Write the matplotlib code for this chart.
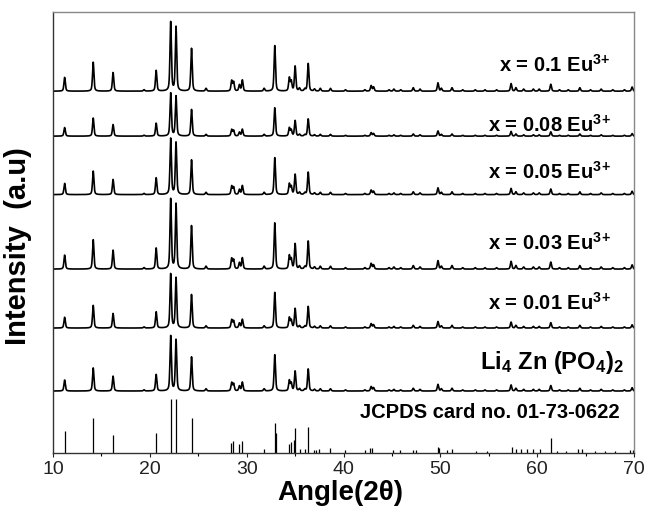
import numpy as np
import matplotlib
matplotlib.use("Agg")
import matplotlib.pyplot as plt

plt.rcParams['font.family'] = ['Liberation Sans', 'DejaVu Sans']
plt.rcParams['mathtext.default'] = 'regular'

# measured pattern: peak position (2theta) and relative intensity (%)
peak_pos = [11.2, 14.15, 16.2, 19.4, 20.65, 22.15, 22.7, 24.3, 25.8, 28.45,
            28.65, 29.25, 29.55, 31.8, 32.9, 34.4, 34.6, 35.0, 35.45, 36.0,
            36.35, 37.0, 37.6, 38.65, 40.2, 42.2, 42.85, 43.1, 44.7, 45.2,
            45.9, 47.2, 47.9, 49.75, 50.1, 51.2, 52.3, 53.6, 54.6, 55.8,
            57.3, 57.8, 58.6, 59.6, 60.2, 61.4, 62.3, 63.2, 64.4, 65.5,
            66.6, 67.8, 69.0, 69.8]
peak_int = [20, 42, 27, 2, 30, 100, 93, 62, 4, 15,
            13, 9, 16, 4, 66, 19, 14, 36, 4, 3,
            40, 3, 4, 4, 2, 2, 8, 6, 2, 3,
            2, 5, 3, 12, 4, 5, 2, 2, 2, 2,
            11, 5, 3, 3, 3, 10, 2, 2, 5, 2,
            3, 2, 2, 6]

# JCPDS card 01-73-0622 reference lines
card_pos = [11.2, 14.15, 16.2, 20.65, 22.15, 22.7, 24.3, 28.4, 28.6, 29.25,
            29.55, 31.8, 32.9, 33.0, 34.4, 34.6, 34.9, 35.0, 35.5, 36.0,
            36.35, 36.9, 37.2, 37.5, 38.6, 40.1, 42.2, 42.75, 42.95, 45.1,
            45.8, 47.2, 47.5, 49.8, 49.9, 50.7, 51.2, 53.7, 54.8, 57.4,
            57.8, 58.3, 58.9, 59.6, 60.3, 61.4, 62.0, 63.0, 64.2, 64.6,
            66.0, 67.0, 68.0, 69.6, 69.9]
card_int = [39, 63, 33, 37, 100, 100, 63, 18, 22, 15,
            22, 7, 55, 37, 15, 20, 24, 46, 7, 7,
            48, 5, 5, 6, 8, 4, 5, 9, 9, 5,
            4, 5, 5, 10, 8, 4, 7, 3, 3, 11,
            7, 7, 6, 6, 6, 26, 3, 3, 7, 6,
            3, 3, 3, 5, 5]

labels = ["Li$_4$ Zn (PO$_4$)$_2$", r"x = 0.01 Eu$^{3\!+}$", r"x = 0.03 Eu$^{3\!+}$",
          r"x = 0.05 Eu$^{3\!+}$", r"x = 0.08 Eu$^{3\!+}$", r"x = 0.1 Eu$^{3\!+}$"]
scale = [55, 54, 70, 56, 43, 69]

# stacking (layout only)
offsets = [61.5, 124.5, 183.5, 258, 316.5, 361.5]
label_y = [90, 149.5, 209.5, 280.5, 327.5, 387.5]
card_scale = 54

tt = np.arange(10, 70.005, 0.01)


def profile(x, pos, amp, w=0.17):
    y = np.zeros_like(x)
    for p, a in zip(pos, amp):
        d = (x - p) / (w / 2)
        y += a / 100 * (0.5 / (1 + d**2) + 0.5 * np.exp(-np.log(2) * d**2))
    return y


base = profile(tt, peak_pos, peak_int)

fig = plt.figure(figsize=(6.49, 5.09), dpi=100)
ax = fig.add_axes([0.0817, 0.111, 0.8953, 0.865])

for lab, s, off, ly in zip(labels, scale, offsets, label_y):
    ax.plot(tt, off + s * base, color='black', lw=1.2)
    if lab.startswith("Li"):
        ax.text(68.9, ly, lab, fontsize=17, fontweight='bold', ha='right', va='center')
    else:
        ax.text(67.6, ly, lab, fontsize=14.5, fontweight='bold', ha='right', va='center')

ax.vlines(card_pos, 0, np.array(card_int) / 100 * card_scale, color='black', lw=0.9)
ax.text(68.55, 40, "JCPDS card no. 01-73-0622", fontsize=14.5, fontweight='bold',
        ha='right', va='center')

ax.set_xlim(10, 70)
ax.set_ylim(0, 440.5)
ax.set_yticks([])
ax.set_xticks(np.arange(10, 71, 10))
ax.set_xticks(np.arange(15, 70, 10), minor=True)
ax.tick_params(axis='x', which='major', direction='out', length=3, width=0.8,
               labelsize=14, colors='#222222', pad=3)
ax.tick_params(axis='x', which='minor', direction='out', length=2, width=0.8)

for side in ['left', 'bottom']:
    ax.spines[side].set_color('#333333')
    ax.spines[side].set_linewidth(1.0)
for side in ['top', 'right']:
    ax.spines[side].set_color('#888888')
    ax.spines[side].set_linewidth(1.0)

ax.set_xlabel("Angle(2θ)", fontsize=20, fontweight='bold')
ax.xaxis.set_label_coords(0.495, -0.062)
ax.set_ylabel("Intensity  (a.u)", fontsize=21, fontweight='bold')
ax.yaxis.set_label_coords(-0.036, 0.47)

fig.savefig("out.png", dpi=100)
